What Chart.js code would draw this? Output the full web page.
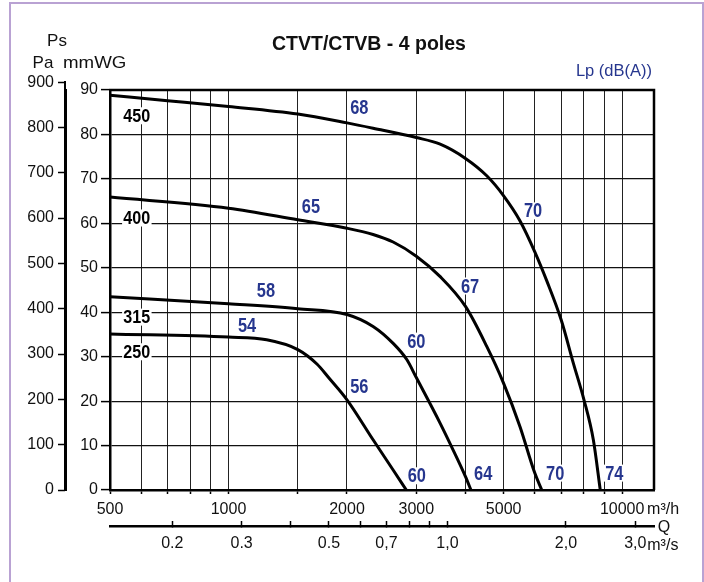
<!DOCTYPE html>
<html>
<head>
<meta charset="utf-8">
<script src="https://cdn.jsdelivr.net/npm/chart.js@4.4.1/dist/chart.umd.min.js"></script>
<style>
  html, body { margin: 0; padding: 0; background: #fff; }
  #wrap { position: relative; width: 704px; height: 582px; overflow: hidden; }
  #frame { position: absolute; left: 9px; top: 2px; width: 691px; height: 640px; border: 2px solid #b9a2d3; }
  canvas { position: absolute; left: 0; top: 0; }
</style>
</head>
<body>
<div id="wrap">
  <div id="frame"></div>
  <canvas id="chart" width="704" height="582"></canvas>
</div>
<script>
// axis ticks
const flowTicks = [500, 600, 700, 800, 900, 1000, 1500, 2000, 3000, 4000, 5000, 6000, 7000, 8000, 9000, 10000];
const flowLabels = [500, 1000, 2000, 3000, 5000, 10000];
const secTicks = [0.2, 0.3, 0.4, 0.5, 0.6, 0.7, 0.8, 0.9, 1, 2, 3];
const secLabels = { 0.2: "0.2", 0.3: "0.3", 0.5: "0.5", 0.7: "0,7", 1: "1,0", 2: "2,0", 3: "3,0" };
const mmTicks = [0, 10, 20, 30, 40, 50, 60, 70, 80, 90];
const paTicks = [0, 100, 200, 300, 400, 500, 600, 700, 800, 900];

// fan curves: flow m3/h, static pressure mmWG
const flow450 = [500, 700, 1000, 1500, 2000, 2330, 3000, 3450, 4000, 4530, 5000, 5500, 6000, 6440, 7000, 7520, 8000, 8450, 8800];
const ps450 = [88.8, 87.6, 86.3, 84.6, 82.6, 81.4, 79.3, 77.8, 74.6, 70.7, 66.2, 60.6, 53.6, 47.0, 38.3, 28.5, 20.3, 11.3, 0];
const flow400 = [500, 1000, 1500, 2000, 2330, 2620, 3000, 3450, 4000, 4530, 5000, 5500, 6000, 6250];
const ps400 = [65.9, 63.4, 60.8, 58.9, 57.5, 55.8, 52.6, 48.0, 41.3, 32.3, 24.0, 14.3, 3.8, 0];
const flow315 = [500, 1000, 1500, 2000, 2330, 2620, 2840, 3000, 3450, 3730, 4000, 4130];
const ps315 = [43.5, 41.9, 40.8, 39.5, 36.8, 33.0, 29.3, 25.3, 15.0, 8.8, 3.0, 0];
const flow250 = [500, 1000, 1250, 1500, 1680, 1800, 2000, 2330, 2620, 2830];
const ps250 = [35.1, 34.4, 33.8, 31.6, 28.3, 25.2, 20.3, 11.3, 4.5, 0];

// size labels
const sizeText = ["450", "400", "315", "250"];
const sizeFlow = [585, 585, 585, 585];
const sizePs = [84.2, 61.2, 38.9, 31.1];

// sound level labels Lp dB(A)
const dbText = ["68", "65", "58", "54", "70", "67", "60", "56", "60", "64", "70", "74"];
const dbFlow = [2150, 1620, 1245, 1115, 5940, 4110, 3000, 2150, 3010, 4435, 6760, 9550];
const dbPs = [86.0, 63.7, 45.0, 37.1, 62.8, 45.9, 33.5, 23.4, 3.2, 3.8, 3.8, 3.8];

const PA_PER_MM = 9.80665;
const BLUE = "#26368e";
const SANS = "'Liberation Sans', Arial, sans-serif";

function toPoints(xs, ys) {
	return xs.map((q, i) => ({ x: q, y: ys[i] }));
}

function curve(xs, ys) {
	return {
		data: toPoints(xs, ys),
		borderColor: "#000",
		borderWidth: 3,
		pointRadius: 0,
		fill: false,
		cubicInterpolationMode: "monotone",
	};
}

// label drawn with a horizontal stretch, optionally on a white patch
function tag(ctx, text, px, py, color, squeeze, patch) {
	ctx.save();
	ctx.translate(px, py);
	ctx.scale(squeeze, 1);
	const w = ctx.measureText(text).width;
	if (patch) {
		ctx.fillStyle = "#fff";
		ctx.fillRect(-w / 2 - 1.5, -8.5, w + 3, 17);
	}
	ctx.fillStyle = color;
	ctx.fillText(text, 0, 1);
	ctx.restore();
}

const decor = {
	id: "decor",
	afterDatasetsDraw(chart) {
		const { ctx, chartArea: a, scales } = chart;
		const x = scales.x, y = scales.y;
		ctx.save();
		// top and right edges of the plot frame
		ctx.strokeStyle = "#000";
		ctx.lineWidth = 2.5;
		ctx.beginPath();
		ctx.moveTo(a.left - 1, a.top);
		ctx.lineTo(a.right, a.top);
		ctx.lineTo(a.right, a.bottom);
		ctx.stroke();

		// Pa axis line continues up to 900
		const pa = scales.yPa;
		ctx.lineWidth = 2;
		ctx.beginPath();
		ctx.moveTo(pa.right - 1, pa.getPixelForValue(0));
		ctx.lineTo(pa.right - 1, pa.getPixelForValue(900) - 1);
		ctx.stroke();

		ctx.textAlign = "center";
		ctx.textBaseline = "middle";
		ctx.font = "bold 19px " + SANS;
		sizeText.forEach((t, i) => tag(ctx, t, x.getPixelForValue(sizeFlow[i]), y.getPixelForValue(sizePs[i]), "#000", 0.85, true));
		ctx.font = "bold 20px " + SANS;
		dbText.forEach((t, i) => tag(ctx, t, x.getPixelForValue(dbFlow[i]), y.getPixelForValue(dbPs[i]), BLUE, 0.82, true));
		ctx.restore();
	},
	afterDraw(chart) {
		const { ctx, chartArea: a, scales } = chart;
		const x = scales.x, x2 = scales.x2, pa = scales.yPa;
		ctx.save();
		ctx.fillStyle = "#111";
		ctx.textBaseline = "middle";

		ctx.font = "17px " + SANS;
		ctx.textAlign = "center";
		ctx.fillText("Ps", pa.right - 9, a.top - 49);
		ctx.fillText("Pa", pa.right - 23, a.top - 27);
		ctx.textAlign = "left";
		tag(ctx, "mmWG", pa.right - 3, a.top - 28, "#111", 1.1, false);

		ctx.font = "bold 19.5px " + SANS;
		ctx.textAlign = "center";
		ctx.fillText("CTVT/CTVB - 4 poles", (a.left + a.right) / 2 - 13, a.top - 45);

		ctx.font = "16.5px " + SANS;
		ctx.textAlign = "right";
		ctx.fillStyle = BLUE;
		ctx.fillText("Lp (dB(A))", a.right - 2, a.top - 19);

		ctx.fillStyle = "#111";
		ctx.font = "16px " + SANS;
		ctx.textAlign = "left";
		ctx.fillText("m³/h", x.getPixelForValue(10000) + 25, x.top + 20);
		ctx.fillText("m³/s", x2.getPixelForValue(3) + 12, x2.top + 20);
		ctx.textAlign = "center";
		ctx.fillText("Q", a.right + 10, x2.top + 2);
		ctx.restore();
	},
};

new Chart(document.getElementById("chart"), {
	type: "line",
	data: {
		datasets: [curve(flow450, ps450), curve(flow400, ps400), curve(flow315, ps315), curve(flow250, ps250)],
	},
	options: {
		responsive: false,
		animation: false,
		events: [],
		layout: { padding: { left: 10, right: 50, top: 90, bottom: 16 } },
		plugins: { legend: { display: false }, tooltip: { enabled: false }, title: { display: false } },
		scales: {
			x: {
				type: "logarithmic",
				position: "bottom",
				weight: 0,
				min: 500,
				max: 12050,
				afterBuildTicks: (s) => { s.ticks = flowTicks.map((v) => ({ value: v })); },
				afterFit: (s) => { s.height = 36; },
				ticks: {
					autoSkip: false,
					maxRotation: 0,
					padding: 6,
					color: "#111",
					font: { family: SANS, size: 16 },
					callback: (v) => (flowLabels.includes(v) ? String(v) : ""),
				},
				grid: { color: "#222", lineWidth: 1, tickLength: 4, tickWidth: 1.5, tickColor: "#000" },
				border: { display: true, color: "#000", width: 2.5 },
			},
			x2: {
				type: "logarithmic",
				position: "bottom",
				weight: 1,
				min: 500 / 3600,
				max: 12050 / 3600,
				afterBuildTicks: (s) => { s.ticks = secTicks.map((v) => ({ value: v })); },
				afterFit: (s) => { s.height = 40; },
				ticks: {
					autoSkip: false,
					maxRotation: 0,
					padding: 13,
					color: "#111",
					font: { family: SANS, size: 16 },
					callback: (v) => secLabels[v] || "",
				},
				grid: { drawOnChartArea: false, tickLength: -5, tickWidth: 1.5, tickColor: "#000" },
				border: { display: true, color: "#000", width: 2.5 },
			},
			y: {
				type: "linear",
				position: "left",
				weight: 0,
				min: 0,
				max: 90,
				afterBuildTicks: (s) => { s.ticks = mmTicks.map((v) => ({ value: v })); },
				afterFit: (s) => { s.width = 44; },
				ticks: { padding: 3, color: "#111", font: { family: SANS, size: 16 } },
				grid: { color: "#111", lineWidth: 1.2, tickLength: 9, tickWidth: 1.5, tickColor: "#000" },
				border: { display: true, color: "#000", width: 2.5 },
			},
			yPa: {
				type: "linear",
				position: "left",
				weight: 1,
				min: 0,
				max: 90 * PA_PER_MM,
				afterBuildTicks: (s) => { s.ticks = paTicks.map((v) => ({ value: v })); },
				afterFit: (s) => { s.width = 56; },
				ticks: { padding: 4, color: "#111", font: { family: SANS, size: 16 } },
				grid: { drawOnChartArea: false, tickLength: 8, tickWidth: 1.5, tickColor: "#000" },
				border: { display: true, color: "#000", width: 2 },
			},
		},
	},
	plugins: [decor],
});
</script>
</body>
</html>
